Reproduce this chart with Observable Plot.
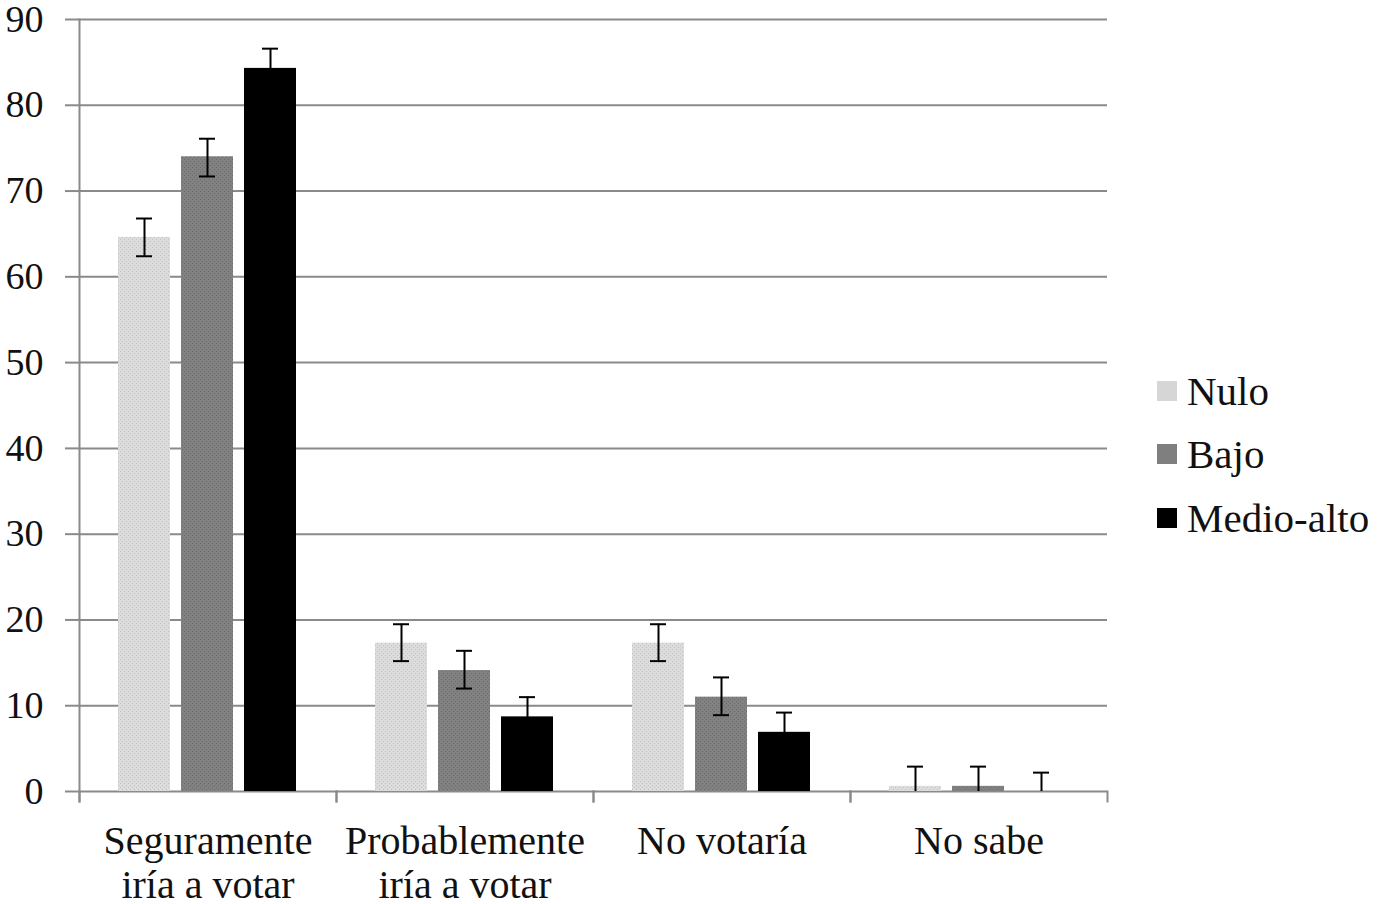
<!DOCTYPE html>
<html><head><meta charset="utf-8">
<script src="https://cdn.jsdelivr.net/npm/d3@7"></script>
<script src="https://cdn.jsdelivr.net/npm/@observablehq/plot@0.6"></script>
<style>
body{margin:0;background:#fff;font-family:"Liberation Serif","Times New Roman",serif;}
#wrap{position:relative;width:1383px;height:904px;}
#legend{position:absolute;left:1157px;top:359px;}
.row{display:flex;align-items:center;height:63.5px;font-size:41px;color:#111;}
.sw{width:20px;height:20px;margin-right:10px;}
</style></head><body><div id="wrap"><div id="legend"></div></div>
<script>
const categories = ["Seguramente\niría a votar", "Probablemente\niría a votar", "No votaría", "No sabe"];
const series = ["Nulo", "Bajo", "Medio-alto"];
const nulo      = [64.6, 17.3, 17.3, 0.6];
const bajo      = [74.0, 14.1, 11.0, 0.6];
const medioAlto = [84.3, 8.7, 6.9, 0.0];
const nuloLo = [62.4, 15.2, 15.2, 0];
const nuloHi = [66.8, 19.5, 19.5, 2.9];
const bajoLo = [71.7, 12.0, 8.9, 0];
const bajoHi = [76.1, 16.4, 13.3, 2.9];
const medioLo = [82.0, 6.6, 4.7, 0];
const medioHi = [86.6, 11.0, 9.2, 2.2];
const yTicks = [0, 10, 20, 30, 40, 50, 60, 70, 80, 90];

const values = [nulo, bajo, medioAlto];
const los = [nuloLo, bajoLo, medioLo];
const his = [nuloHi, bajoHi, medioHi];
const data = [];
categories.forEach((c, i) => series.forEach((s, j) => data.push({cat: c, ser: s, v: values[j][i], lo: los[j][i], hi: his[j][i]})));

const W = 1383, H = 904, mL = 78, mR = 276, mT = 19, mB = 113;
const plotH = H - mT - mB;
const grid = "#8a8a8a";

const chart = Plot.plot({
  width: W, height: H, marginLeft: mL, marginRight: mR, marginTop: mT, marginBottom: mB,
  style: {fontFamily: "Liberation Serif, Times New Roman, serif", background: "white", color: "#111", overflow: "visible"},
  fx: {domain: categories, paddingInner: 0, paddingOuter: 0},
  x: {domain: series, paddingInner: 0.17, paddingOuter: 0.61, axis: null},
  y: {domain: [0, 90]},
  color: {type: "ordinal", domain: series, range: ["url(#pNulo)", "url(#pBajo)", "#000000"]},
  marks: [
    Plot.ruleY(yTicks, {stroke: grid, strokeWidth: 2}),
    Plot.frame({anchor: "left", stroke: grid, strokeWidth: 2, insetTop: plotH, insetBottom: -10}),
    Plot.frame({anchor: "right", stroke: grid, strokeWidth: 2, insetTop: plotH, insetBottom: -10}),
    Plot.frame({anchor: "left", stroke: grid, strokeWidth: 2, insetBottom: -10, fx: () => categories[0]}),
    Plot.barY(data.filter(d => d.v > 0), {fx: "cat", x: "ser", y: "v", fill: "ser"}),
    Plot.ruleX(data, {fx: "cat", x: "ser", y1: "lo", y2: "hi", stroke: "#000", strokeWidth: 2}),
    Plot.tickY(data, {fx: "cat", x: "ser", y: "hi", stroke: "#000", strokeWidth: 2, inset: 18}),
    Plot.tickY(data.filter(d => d.lo > 0), {fx: "cat", x: "ser", y: "lo", stroke: "#000", strokeWidth: 2, inset: 18}),
    Plot.axisY({ticks: yTicks, tickSize: 14, tickPadding: 22, stroke: grid, strokeWidth: 2, fontSize: 38, label: null, fill: "#111", tickFormat: d => String(d)}),
    Plot.axisFx({anchor: "bottom", tickSize: 0, tickPadding: 31, fontSize: 40, lineHeight: 1.1, label: null, fill: "#111"})
  ]
});

const svg = d3.select(chart);
const defs = svg.insert("defs", ":first-child");
function pat(id, bg, dot) {
  const p = defs.append("pattern").attr("id", id).attr("patternUnits", "userSpaceOnUse").attr("width", 4).attr("height", 4);
  p.append("rect").attr("width", 4).attr("height", 4).attr("fill", bg);
  p.append("rect").attr("x", 1).attr("y", 1).attr("width", 1).attr("height", 1).attr("fill", dot);
  p.append("rect").attr("x", 3).attr("y", 3).attr("width", 1).attr("height", 1).attr("fill", dot);
}
pat("pNulo", "#dcdcdc", "#c2c2c2");
pat("pBajo", "#818181", "#6c6c6c");

const wrap = document.getElementById("wrap");
wrap.insertBefore(chart, wrap.firstChild);

const swatch = ["#d6d6d6", "#7f7f7f", "#000000"];
const legend = d3.select("#legend");
series.forEach((s, i) => {
  const r = legend.append("div").attr("class", "row");
  r.append("div").attr("class", "sw").style("background", swatch[i]);
  r.append("span").text(s);
});
</script></body></html>
